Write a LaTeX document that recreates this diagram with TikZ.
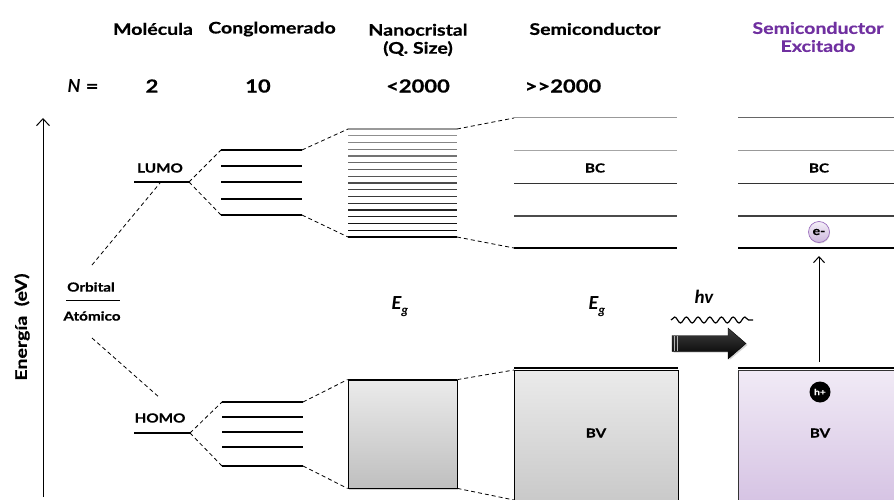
\documentclass[tikz,border=0pt]{standalone}
\usepackage{fontspec}
\setmainfont{Lato}[BoldFeatures={FakeStretch=1.22,FakeBold=0.6}]
\newfontfamily\calfont{Carlito}
\usetikzlibrary{decorations.pathmorphing,shadows,arrows.meta,shapes.arrows}
\definecolor{purp}{HTML}{7030A0}
\begin{document}
\begin{tikzpicture}[x=1pt,y=-1pt,
  title/.style={font=\fontsize{16}{18}\selectfont\bfseries, inner sep=0pt, align=center},
  numtxt/.style={font=\fontsize{18}{20}\selectfont\bfseries, inner sep=0pt},
  small/.style={font=\fontsize{12.5}{14}\selectfont\bfseries, inner sep=0pt},
  lvl/.style={line width=1.1pt},
  dsh/.style={dash pattern=on 4pt off 3pt, line width=0.8pt},
  egtxt/.style={font=\calfont\fontsize{20}{22}\selectfont\bfseries\itshape, inner sep=0pt}]
\useasboundingbox (0,0) rectangle (894,500);

% titles
\node[title] (tmol) at (153,29) {Molécula};
\node[title] (tcon) at (272,29) {Conglomerado};
\node[title] (tnan) at (418,40) {Nanocristal\\(Q. Size)};
\node[title] (tsem) at (595,29) {Semiconductor};
\node[title, text=purp] (texc) at (818,37) {Semiconductor\\Excitado};
\node[numtxt] (nlab) at (83,86) {\itshape N\upshape\ =};
\node[numtxt] (n2) at (152,86) {2};
\node[numtxt] (n10) at (258,86) {10};
\node[numtxt] (n2k) at (418,86) {<2000};
\node[numtxt] (n2kk) at (563,86) {>\kern0pt>\kern0pt2000};

% energy axis
\coordinate (axB) at (43,497);
\coordinate (axT) at (43,118);
\draw[line width=1pt, -{Straight Barb[length=7pt,width=13pt]}] (axB) -- (axT);
\node[font=\fontsize{16}{18}\selectfont\bfseries, rotate=90, inner sep=0pt] (elab) at (22,327) {Energía\ \ (eV)};

% atomic orbital
\node[small] (orb) at (91,287) {Orbital};
\node[small] (atm) at (92,316) {Atómico};
\coordinate (oaL) at (66,300);
\coordinate (oaR) at (120,300);
\draw[line width=1pt] (oaL) -- (oaR);
\coordinate (oaT) at (92,265);
\coordinate (oaB) at (92,338);

% LUMO / HOMO
\coordinate (lumoL) at (134,182);
\coordinate (lumoR) at (189,182);
\coordinate (lumoM) at (160,183);
\draw[lvl] (lumoL) -- (lumoR);
\node[small] (lumo) at (160,168) {LUMO};
\coordinate (homoL) at (134,433);
\coordinate (homoR) at (190,433);
\coordinate (homoT) at (160,398);
\draw[lvl] (homoL) -- (homoR);
\node[small] (homo) at (160,418) {HOMO};
\draw[dsh] (oaT) -- (lumoM);
\draw[dsh] (oaB) -- (homoT);

% cluster levels
\foreach \y [count=\i] in {150,166,182,199,215}{
  \coordinate (cL\i) at (221,\y); \coordinate (cR\i) at (302,\y);
  \draw[lvl] (cL\i) -- (cR\i);}
\foreach \y [count=\i] in {402,417,432,447,466}{
  \coordinate (hL\i) at (222,\y); \coordinate (hR\i) at (303,\y);
  \draw[lvl] (hL\i) -- (hR\i);}
\draw[dsh] (lumoR) -- (cL1);
\draw[dsh] (lumoR) -- (cL5);
\draw[dsh] (homoR) -- (hL1);
\draw[dsh] (homoR) -- (hL5);

% nanocrystal levels
\foreach \i in {0,...,16}{
  \pgfmathsetmacro{\yy}{129+\i*6.75}
  \pgfmathsetmacro{\gg}{40+\i*3.75}
  \draw[line width=1.1pt, color=black!\gg] (348,\yy) -- (457,\yy);}
\draw[line width=1.4pt] (348,237) -- (457,237);
\coordinate (nTL) at (348,129); \coordinate (nTR) at (457,129);
\coordinate (nBL) at (348,237); \coordinate (nBR) at (457,237);
\draw[dsh] (cR1) -- (nTL);
\draw[dsh] (cR5) -- (nBL);

% gap labels
\node[egtxt] (eg1) at (400,307) {E\raisebox{-5pt}{\fontsize{13}{13}\selectfont g}};
\node[egtxt] (eg2) at (597,307) {E\raisebox{-5pt}{\fontsize{13}{13}\selectfont g}};

% nanocrystal BV box
\node[draw=black, line width=0.8pt, top color=black!8, bottom color=black!25,
  minimum width=109pt, minimum height=108pt, inner sep=0pt,
  drop shadow={shadow xshift=1pt, shadow yshift=-1.5pt, opacity=0.35}] (nbv) at (402.5,434) {};
\draw[line width=2pt] (nbv.north west) -- (nbv.north east);
\draw[dsh] (hR1) -- (nbv.north west);
\draw[dsh] (hR5) -- (nbv.south west);

% semiconductor BC
\coordinate (sL1) at (514,118); \coordinate (sR1) at (677,118);
\coordinate (sL2) at (514,151); \coordinate (sR2) at (677,151);
\coordinate (sL3) at (514,183); \coordinate (sR3) at (677,183);
\coordinate (sL4) at (514,216); \coordinate (sR4) at (677,216);
\coordinate (sL5) at (514,248); \coordinate (sR5) at (677,248);
\draw[line width=1pt, black!40] (sL1) -- (sR1);
\draw[line width=1pt, black!35] (sL2) -- (sR2);
\draw[line width=1pt, black!80] (sL3) -- (sR3);
\draw[line width=1.2pt, black!70] (sL4) -- (sR4);
\draw[line width=1.5pt] (sL5) -- (sR5);
\node[small] (bc1) at (595,168) {BC};
\draw[dsh] (nTR) -- (sL1);
\draw[dsh] (nBR) -- (sL5);

% semiconductor BV
\node[draw=black, line width=0.8pt, top color=black!8, bottom color=black!22,
  minimum width=164pt, minimum height=140pt, inner sep=0pt, anchor=north west] (sbv) at (514,370) {};
\draw[line width=2pt] (514,368) -- (678,368);
\node[small] (bv1) at (596,433) {BV};
\draw[dsh] (nbv.north east) -- (sbv.north west);
\coordinate (sbvB) at (514,500);
\draw[dsh] (nbv.south east) -- (sbvB);

% photon
\node[font=\calfont\fontsize{19}{20}\selectfont\bfseries\itshape, inner sep=0pt] (hv) at (704,297) {hv};
\coordinate (wL) at (671,320); \coordinate (wR) at (753,320);
\draw[line width=1.2pt, decorate, decoration={snake, amplitude=3pt, segment length=11.7pt}] (wL) -- (wR);
\fill[black!35, opacity=0.5] (673.5,337.5) -- (729.5,337.5) -- (729.5,330) -- (747.5,345) -- (729.5,360) -- (729.5,352.5) -- (673.5,352.5) -- cycle;
\shade[top color=black!75, middle color=black, bottom color=black, draw=black, line width=0.4pt]
  (672,335.5) -- (728,335.5) -- (728,328) -- (746,343.5) -- (728,359) -- (728,351.5) -- (672,351.5) -- cycle;
\draw[white!70!black, line width=0.6pt] (674.5,336) -- (674.5,351);
\draw[white!70!black, line width=0.6pt] (677,336) -- (677,351);

% excited semiconductor
\draw[line width=1pt, black!60] (738,118) -- (900,118);
\draw[line width=1pt, black!40] (738,151) -- (900,151);
\draw[line width=1pt, black!80] (738,183) -- (900,183);
\draw[line width=1.2pt, black!75] (738,216) -- (900,216);
\draw[line width=1.5pt] (738,248) -- (900,248);
\node[small] (bc2) at (819,168) {BC};
\node[circle, draw=purp!70, line width=0.7pt, top color=purp!8, bottom color=purp!35, minimum size=21pt, inner sep=0pt,
  font=\fontsize{11.5}{12}\selectfont\bfseries, drop shadow={shadow xshift=0.5pt, shadow yshift=-1pt, opacity=0.3}] (el) at (819,232) {e-};
\node[draw=black!80, line width=0.8pt, top color=purp!10, bottom color=purp!30,
  minimum width=170pt, minimum height=140pt, inner sep=0pt, anchor=north west] (ebv) at (738,370) {};
\draw[line width=2pt] (738,368) -- (900,368);
\node[circle, fill=black, minimum size=21pt, inner sep=0pt, text=white,
  font=\fontsize{8.5}{9}\selectfont\bfseries] (hole) at (820,392) {h+};
\node[small] (bv2) at (820,433) {BV};
\coordinate (exB) at (819,362);
\coordinate (exT) at (819,256);
\draw[line width=1pt, -{Straight Barb[length=6pt,width=11pt]}] (exB) -- (exT);
\end{tikzpicture}
\end{document}
